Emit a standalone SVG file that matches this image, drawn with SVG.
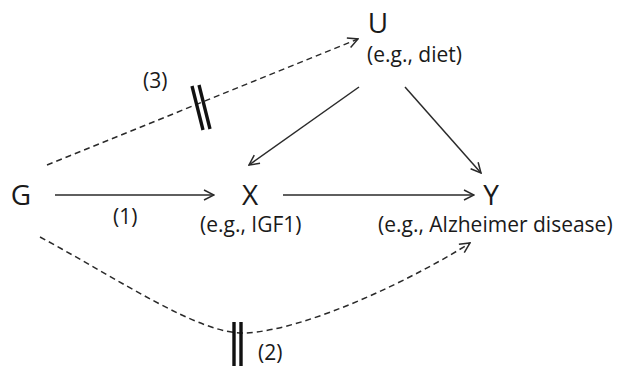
<svg xmlns="http://www.w3.org/2000/svg" width="618" height="366" viewBox="0 0 618 366">
<style>
.n{font-family:"Open Sans","Noto Sans",sans-serif;font-size:28px;fill:#1a1a1a}
.l{font-family:"Open Sans","Noto Sans",sans-serif;font-size:21px;fill:#1a1a1a}
.e{fill:none;stroke:#2a2a2a;stroke-width:1.5;marker-end:url(#a)}
.d{stroke-dasharray:6 4}
.bar{stroke:#111;stroke-width:3.4}
</style>
<defs>
<marker id="a" viewBox="0 0 12 12" refX="11" refY="6" markerWidth="12" markerHeight="12" markerUnits="userSpaceOnUse" orient="auto">
<path d="M1,1 L11,6 L1,11" fill="none" stroke="#2a2a2a" stroke-width="1.5"/>
</marker>
</defs>
<rect width="618" height="366" fill="#fff"/>
<g id="connectors">
<line class="e" x1="55" y1="195" x2="214" y2="195"/>
<line class="e" x1="283" y1="195" x2="474" y2="195"/>
<line class="e" x1="359" y1="87" x2="249" y2="165"/>
<line class="e" x1="405" y1="87" x2="481" y2="173"/>
<line class="e d" x1="47" y1="165" x2="358" y2="39"/>
<path class="e d" d="M40,237 C120,280 200,335 245,333 C310,330 420,275 470,243"/>
<line class="bar" x1="192" y1="86" x2="203" y2="130"/>
<line class="bar" x1="199" y1="85" x2="210" y2="129"/>
<line class="bar" x1="234" y1="322" x2="234" y2="366"/>
<line class="bar" x1="241" y1="322" x2="241" y2="366"/>
</g>
<g id="G"><text class="n" x="21" y="205" text-anchor="middle">G</text></g>
<g id="X"><text class="n" x="250" y="205" text-anchor="middle">X</text><text class="l" x="200" y="232">(e.g., IGF1)</text></g>
<g id="Y"><text class="n" x="491" y="205" text-anchor="middle">Y</text><text class="l" x="378" y="232">(e.g., Alzheimer disease)</text></g>
<g id="U"><text class="n" x="378" y="33" text-anchor="middle">U</text><text class="l" x="367" y="62">(e.g., diet)</text></g>
<g id="labels">
<text class="l" x="258" y="360">(2)</text>
<text class="l" x="113" y="224">(1)</text>
<text class="l" x="143" y="88">(3)</text>
</g>
</svg>
